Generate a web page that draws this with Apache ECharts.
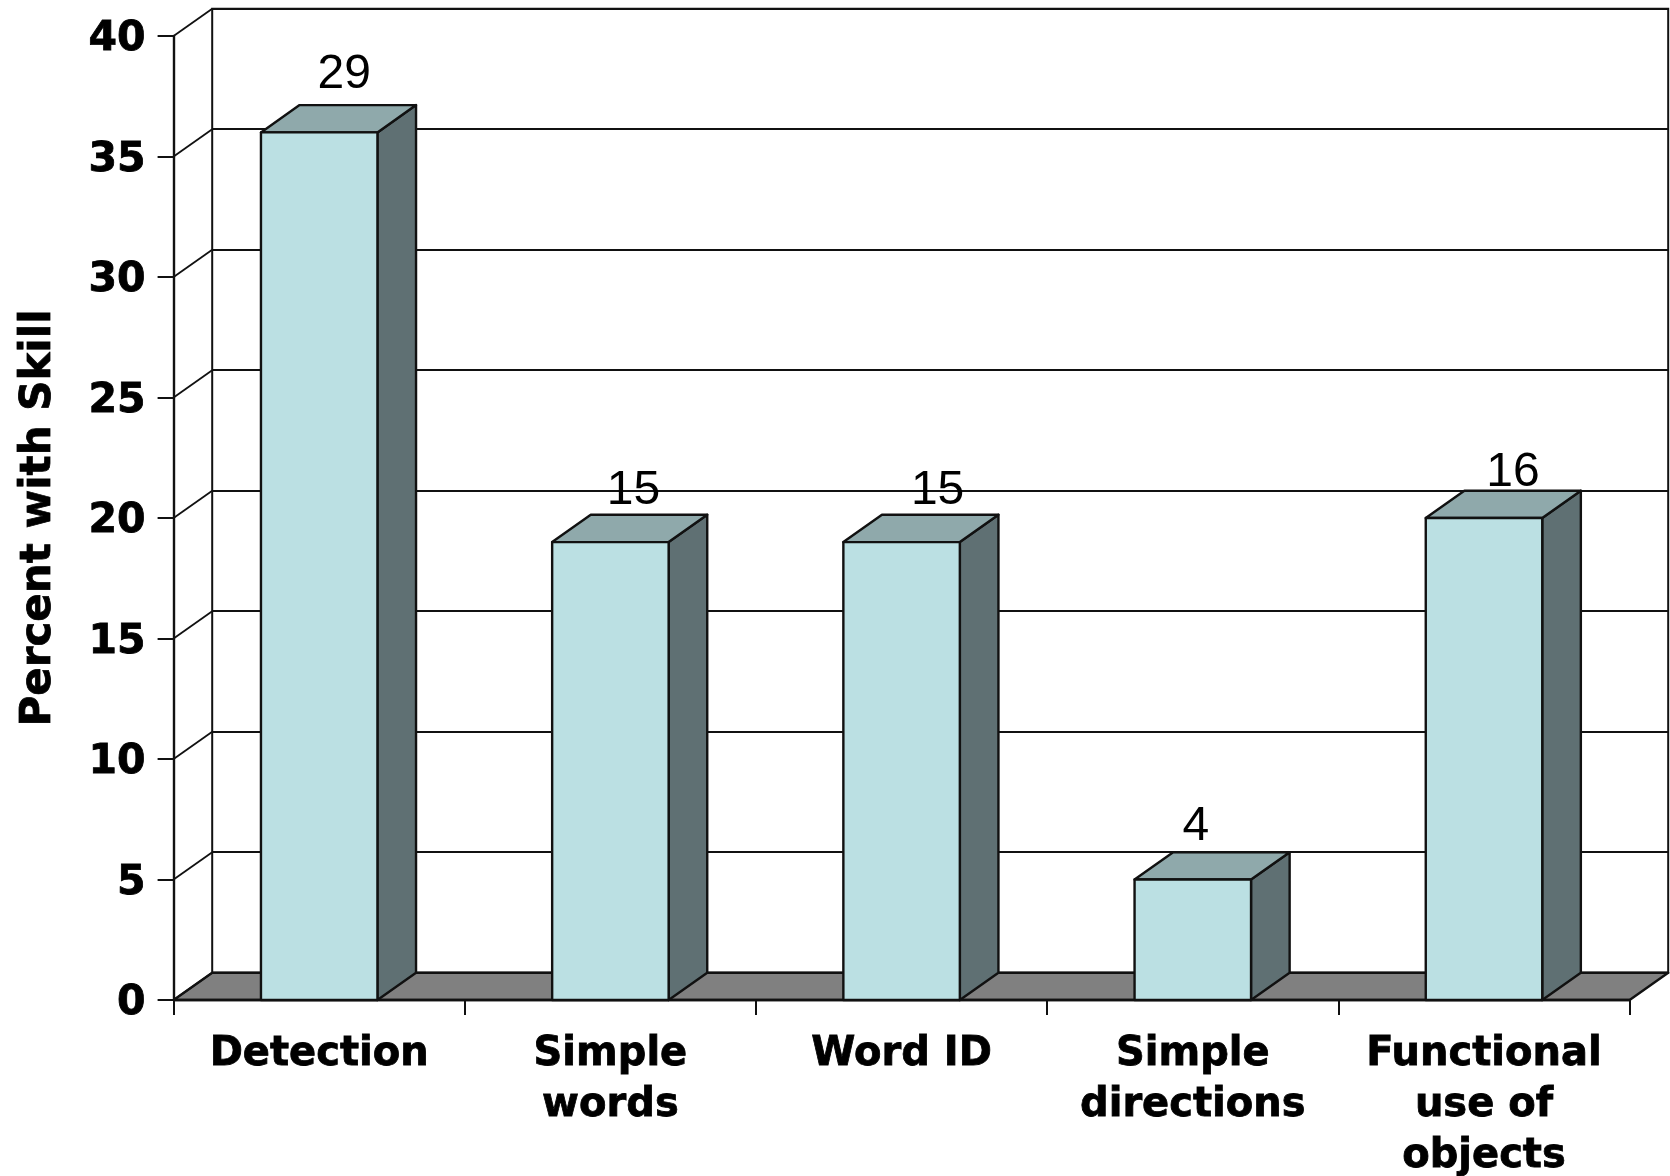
<!DOCTYPE html>
<html>
<head>
<meta charset="utf-8">
<title>Percent with Skill</title>
<script src="https://cdn.jsdelivr.net/npm/echarts@6/dist/echarts.min.js"></script>
<style>
  html, body { margin: 0; padding: 0; background: #fff; }
  #chart { width: 1670px; height: 1176px; }
</style>
</head>
<body>
<div id="chart"></div>
<script>
// Bars show the percentage on the axis; the caption above each bar is the raw count.
const categories = ['Detection', 'Simple\nwords', 'Word ID', 'Simple\ndirections', 'Functional\nuse of\nobjects'];
const percentWithSkill = [36, 19, 19, 5, 20];
const childCounts = [29, 15, 15, 4, 16];
const yTicks = [0, 5, 10, 15, 20, 25, 30, 35, 40];

// Hand-placed caption offsets from the top centre of each bar's front face.
const captionOffsets = [[25, -58], [23, -51], [36, -51], [3, -53], [29, -45]];

// Projection of the pseudo-3D depth, in pixels.
const depthX = 38.6;
const depthY = 27.3;

const frontGrid = { left: 173.6, right: 40.4, top: 36, bottom: 176, outerBoundsMode: 'none' };
const backGrid = {
  left: frontGrid.left + depthX,
  right: frontGrid.right - depthX,
  top: frontGrid.top - depthY,
  bottom: frontGrid.bottom + depthY,
  outerBoundsMode: 'none'
};

const INK = '#111';
const boldFont = {
  fontFamily: 'DejaVu Sans',
  fontWeight: 'bold',
  fontSize: 40,
  color: '#000',
  textBorderColor: '#000',
  textBorderWidth: 0.8
};
const edge = { stroke: INK, lineWidth: 2.4, lineJoin: 'round' };

function poly(points, fill) {
  return { type: 'polygon', shape: { points }, style: Object.assign({ fill }, edge) };
}

// Floor slab spanning the whole category axis.
function renderFloor(params, api) {
  const band = api.size([1, 0])[0];
  const start = api.coord([api.value(0), 0]);
  const end = api.coord([api.value(1), 0]);
  const x0 = start[0] - band / 2;
  const x1 = end[0] + band / 2;
  const y = start[1];
  return poly([[x0, y], [x1, y], [x1 + depthX, y - depthY], [x0 + depthX, y - depthY]], '#808080');
}

// Diagonal connectors from the front value axis back to the wall.
function renderConnector(params, api) {
  const band = api.size([1, 0])[0];
  const p = api.coord([0, api.value(0)]);
  const x = p[0] - band / 2;
  return {
    type: 'line',
    shape: { x1: x, y1: p[1], x2: x + depthX, y2: p[1] - depthY },
    style: { stroke: INK, lineWidth: 1.8 }
  };
}

// Box with front, top and side faces plus its count caption.
function renderBar(params, api) {
  const i = api.value(0);
  const top = api.coord([i, api.value(1)]);
  const base = api.coord([i, 0]);
  const w = api.size([1, 0])[0] * 0.4;
  const l = top[0] - w / 2;
  const r = top[0] + w / 2;
  const t = top[1];
  const b = base[1];
  const off = captionOffsets[i];
  return {
    type: 'group',
    children: [
      poly([[r, t], [r + depthX, t - depthY], [r + depthX, b - depthY], [r, b]], '#5f7073'),
      poly([[l, t], [l + depthX, t - depthY], [r + depthX, t - depthY], [r, t]], '#8fa9ab'),
      poly([[l, t], [r, t], [r, b], [l, b]], '#bbe0e3'),
      {
        type: 'text',
        z2: 10,
        style: {
          x: top[0] + off[0],
          y: t + off[1],
          text: String(api.value(2)),
          textAlign: 'center',
          textVerticalAlign: 'middle',
          font: '48px "Liberation Sans"',
          fill: '#000'
        }
      }
    ]
  };
}

const chart = echarts.init(document.getElementById('chart'), null, { renderer: 'canvas' });
chart.setOption({
  animation: false,
  backgroundColor: '#fff',
  grid: [
    Object.assign({}, frontGrid, { containLabel: false }),
    Object.assign({}, backGrid, { show: true, backgroundColor: '#fff', borderColor: INK, borderWidth: 2 })
  ],
  xAxis: [
    {
      type: 'category',
      gridIndex: 0,
      data: categories,
      z: 3,
      axisLine: { show: true, lineStyle: { color: INK, width: 2.4 } },
      axisTick: { show: true, length: 15, alignWithLabel: false, lineStyle: { color: INK, width: 2 } },
      axisLabel: Object.assign({ interval: 0, margin: 29, lineHeight: 51, align: 'center', verticalAlign: 'top' }, boldFont)
    },
    { type: 'value', gridIndex: 1, min: 0, max: 1, show: false }
  ],
  yAxis: [
    {
      type: 'value',
      gridIndex: 0,
      min: 0,
      max: 40,
      interval: 5,
      z: 3,
      name: 'Percent with Skill',
      nameLocation: 'middle',
      nameRotate: 90,
      nameGap: 114,
      nameTextStyle: Object.assign({}, boldFont, { fontSize: 42 }),
      axisLine: { show: true, lineStyle: { color: INK, width: 2.4 } },
      axisTick: { show: true, length: 16, lineStyle: { color: INK, width: 2 } },
      axisLabel: Object.assign({ margin: 28, verticalAlign: 'top', padding: [-17, 0, 0, 0] }, boldFont, { fontSize: 41 }),
      splitLine: { show: false }
    },
    {
      type: 'value',
      gridIndex: 1,
      min: 0,
      max: 40,
      interval: 5,
      axisLine: { show: false },
      axisTick: { show: false },
      axisLabel: { show: false },
      splitLine: { show: true, lineStyle: { color: INK, width: 1.8 } }
    }
  ],
  series: [
    {
      type: 'custom',
      xAxisIndex: 0,
      yAxisIndex: 0,
      z: 1,
      silent: true,
      clip: false,
      renderItem: renderFloor,
      encode: { x: 0 },
      data: [[0, categories.length - 1]]
    },
    {
      type: 'custom',
      xAxisIndex: 0,
      yAxisIndex: 0,
      z: 1,
      silent: true,
      clip: false,
      renderItem: renderConnector,
      encode: { y: 0 },
      data: yTicks.map(v => [v])
    },
    {
      type: 'custom',
      xAxisIndex: 0,
      yAxisIndex: 0,
      z: 4,
      silent: true,
      clip: false,
      renderItem: renderBar,
      encode: { x: 0, y: 1 },
      data: percentWithSkill.map((v, i) => [i, v, childCounts[i]])
    }
  ]
});
</script>
</body>
</html>
